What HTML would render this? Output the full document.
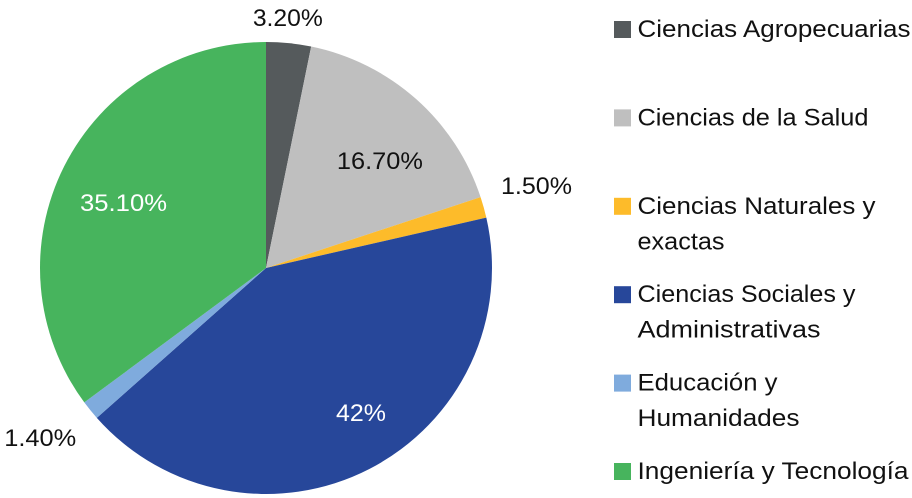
<!DOCTYPE html>
<html lang="es">
<head>
<meta charset="utf-8">
<title>Distribución por área</title>
<style>
html,body{margin:0;padding:0;background:#fff;}
body{width:912px;height:498px;overflow:hidden;}
svg{display:block;}
text{font-family:"Liberation Sans",sans-serif;}
</style>
</head>
<body>
<svg id="chart" width="912" height="498" viewBox="0 0 912 498" xmlns="http://www.w3.org/2000/svg">
  <g id="slices"></g>
  <g id="labels"></g>
  <g id="legend"></g>
</svg>
<script>
const categories = ['Ciencias Agropecuarias', 'Ciencias de la Salud', 'Ciencias Naturales y|exactas', 'Ciencias Sociales y|Administrativas', 'Educación y|Humanidades', 'Ingeniería y Tecnología'];
const values = [3.2, 16.7, 1.5, 42, 1.4, 35.1];
const valueLabels = ['3.20%', '16.70%', '1.50%', '42%', '1.40%', '35.10%'];
const colors = ['#555a5c', '#bfbfbf', '#fdbb2a', '#27479a', '#7fabdd', '#47b45d'];
const labelColors = ['#111', '#111', '#111', '#fff', '#111', '#fff'];

// Layout settings for labels (distance from centre, angular nudge, fitted width)
const labelRadius = [252, 157, 283, 172.5, 282, 157];
const labelAngleNudge = [-0.8, 4.9, -1.5, -6.2, 2.2, -1.9];
const labelWidths = [70, 86, 71, 50, 72, 87];
const legendLineWidths = [[273], [231], [238, 87], [218, 183], [140, 162], [271]];

const svgNS = 'http://www.w3.org/2000/svg';
const cx = 266, cy = 268, radius = 226;
const total = values.reduce(function (a, b) { return a + b; }, 0);

function angleOf(v) { return v / total * 2 * Math.PI; }
function px(a, r) { return cx + r * Math.sin(a); }
function py(a, r) { return cy - r * Math.cos(a); }

const slicesGroup = document.getElementById('slices');
const labelsGroup = document.getElementById('labels');
const legendGroup = document.getElementById('legend');

let cum = 0;
values.forEach(function (v, i) {
  const a0 = angleOf(cum);
  const a1 = angleOf(cum + v);
  const mid = (a0 + a1) / 2;
  const large = a1 - a0 > Math.PI ? 1 : 0;
  const slice = document.createElementNS(svgNS, 'path');
  slice.setAttribute('d', 'M' + cx + ' ' + cy + ' L' + px(a0, radius) + ' ' + py(a0, radius) +
    ' A' + radius + ' ' + radius + ' 0 ' + large + ' 1 ' + px(a1, radius) + ' ' + py(a1, radius) + ' Z');
  slice.setAttribute('fill', colors[i]);
  
  
  slicesGroup.appendChild(slice);

  const la = mid + labelAngleNudge[i] * Math.PI / 180;
  const label = document.createElementNS(svgNS, 'text');
  label.setAttribute('x', px(la, labelRadius[i]));
  label.setAttribute('y', py(la, labelRadius[i]) + 9);
  label.setAttribute('text-anchor', 'middle');
  label.setAttribute('font-size', '24.5');
  label.setAttribute('fill', labelColors[i]);
  label.setAttribute('textLength', labelWidths[i]);
  label.setAttribute('lengthAdjust', 'spacingAndGlyphs');
  
  
  label.textContent = valueLabels[i];
  labelsGroup.appendChild(label);
  cum += v;
});

categories.forEach(function (name, i) {
  const top = 21 + i * 88.4;
  const swatch = document.createElementNS(svgNS, 'rect');
  swatch.setAttribute('x', 614);
  swatch.setAttribute('y', top);
  swatch.setAttribute('width', 17);
  swatch.setAttribute('height', 17);
  swatch.setAttribute('fill', colors[i]);
  
  
  legendGroup.appendChild(swatch);

  name.split('|').forEach(function (line, j) {
    const t = document.createElementNS(svgNS, 'text');
    t.setAttribute('x', 637.5);
    t.setAttribute('y', top + 16 + j * 35.5);
    t.setAttribute('font-size', '24');
    t.setAttribute('fill', '#111');
    t.setAttribute('textLength', legendLineWidths[i][j]);
    t.setAttribute('lengthAdjust', 'spacingAndGlyphs');
    
    
    t.textContent = line;
    legendGroup.appendChild(t);
  });
});
</script>
</body>
</html>
